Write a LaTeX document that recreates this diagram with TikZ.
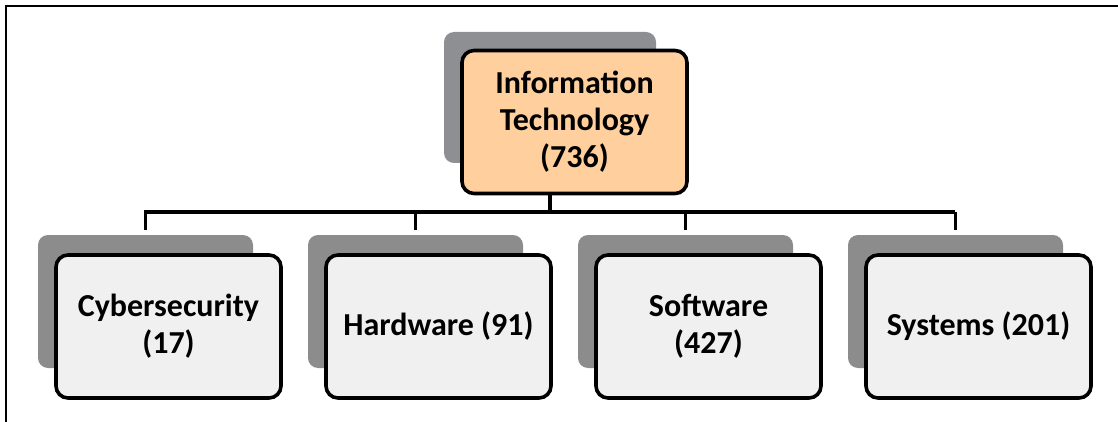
\documentclass[tikz,border=0pt]{standalone}
\usepackage{fontspec}
\setmainfont{Carlito}
\begin{document}
\begin{tikzpicture}[x=1pt,y=-1pt,
  card/.style={draw=black,line width=3.6pt,rounded corners=12pt,fill=#1,
    minimum width=225pt,minimum height=143pt,align=center,
    font=\bfseries\fontsize{32}{37}\selectfont,inner sep=4pt},
  card/.default={white!94!black},
  link/.style={draw=black,line width=3.6pt}]
\useasboundingbox (0,0) rectangle (1118,422);
% page frame
\draw[line width=2.6pt] (6,422) -- (6,6) -- (1118,6);

% root card with its offset shadow
\fill[gray!75!cyan!30!black!60] (444,32) [rounded corners=10pt] rectangle (656,163);
\node[card={orange!38!white}] (root) at (574.5,122) {Information\\Technology\\(736)};
\coordinate (rootdrop) at (550,193);
\coordinate (busL) at (144,212);
\coordinate (busR) at (955,212);
\draw[link] (rootdrop) -- (550,212);
\draw[link] (busL) -- (busR);

% child cards
\foreach \n/\x/\t in {cyb/0/{Cybersecurity\\(17)},hw/270/{Hardware (91)},sw/540/{Software\\(427)},sys/810/{Systems (201)}}{
  \fill[gray!80!black!75] (38+\x,235) [rounded corners=10pt] rectangle (253+\x,368);
  \node[card] (\n) at (168.5+\x,326.5) {\t};
  \coordinate (\n top) at (145.5+\x,230);
}
\foreach \n in {cyb,hw,sw,sys}
  \draw[link] (\n top) -- (\n top |- busL);
\end{tikzpicture}
\end{document}
